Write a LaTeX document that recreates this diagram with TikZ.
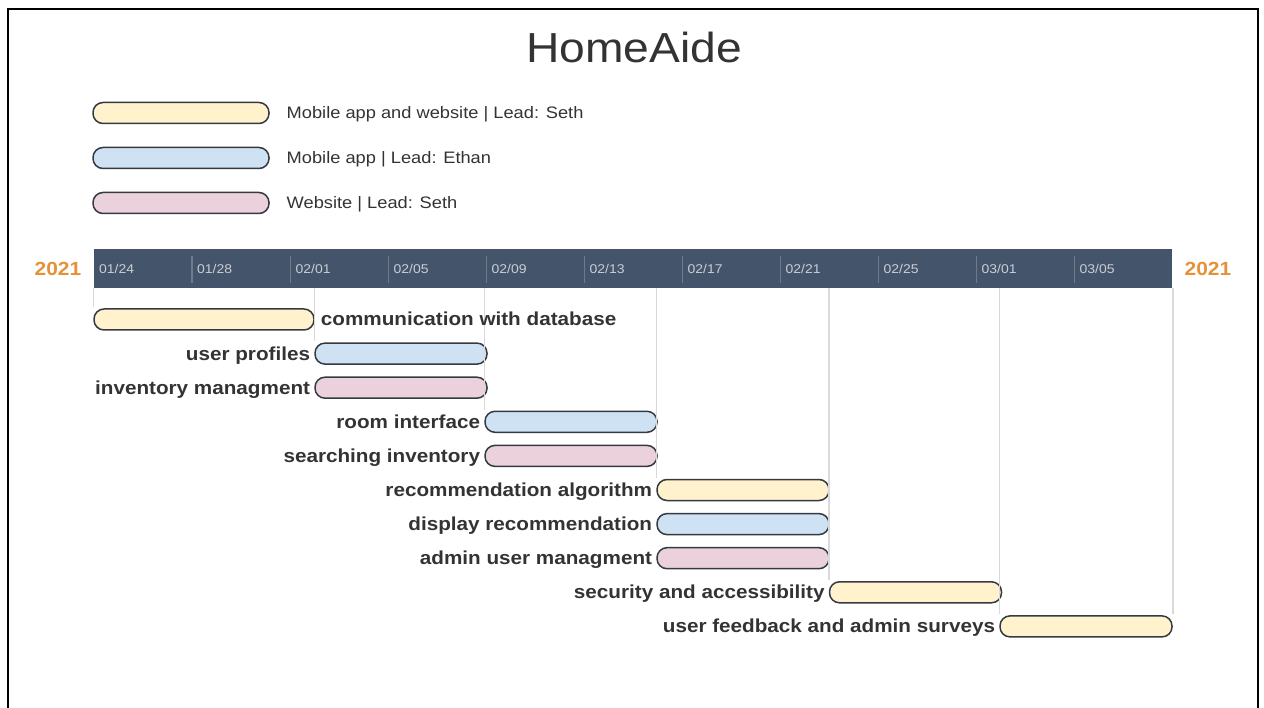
\documentclass[tikz,border=0pt]{standalone}
\usepackage{fontspec}
\setmainfont{Liberation Sans}[FakeStretch=1.1]
\definecolor{txt}{HTML}{333333}
\definecolor{hdrc}{HTML}{44546A}
\definecolor{tickc}{HTML}{6E7B8E}
\definecolor{datec}{HTML}{C9CED6}
\definecolor{orng}{HTML}{E69138}
\definecolor{yel}{HTML}{FFF2CC}
\definecolor{blu}{HTML}{CFE2F3}
\definecolor{pnk}{HTML}{EAD1DC}
\definecolor{edge}{HTML}{353A42}
\definecolor{gridc}{HTML}{D9D9D9}
\tikzset{
  bar/.style={draw=edge, line width=1.5pt, rounded corners=10pt, minimum height=21pt, inner sep=0pt},
  tasklbl/.style={text=txt, font=\fontsize{18.8}{22}\bfseries\selectfont, inner sep=0pt},
  leglbl/.style={text=txt, font=\fontsize{16.6}{20}\selectfont, inner sep=0pt, anchor=base west},
  datelbl/.style={text=datec, font=\fontsize{12.7}{15}\selectfont, inner sep=0pt, anchor=base west},
  yearlbl/.style={text=orng, font=\fontsize{19}{22}\bfseries\selectfont, inner sep=0pt, anchor=base west},
  gridln/.style={draw=gridc, line width=1.5pt},
  tickln/.style={draw=tickc, line width=1.2pt},
}
\begin{document}
\begin{tikzpicture}[x=1pt, y=-1pt]
\useasboundingbox (0,0) rectangle (1264,708);
% frame
\draw[line width=2pt, black] (8,708) -- (8,9.3) -- (1258,9.3) -- (1258,708);
% title
\node[text=txt, font=\fontsize{42}{48}\selectfont, inner sep=0pt, anchor=base] (title) at (634,63) {HomeAide};
% legend
\node[bar, fill=yel, minimum width=176pt] (lg1) at (181,113) {};
\node[bar, fill=blu, minimum width=176pt] (lg2) at (181,158) {};
\node[bar, fill=pnk, minimum width=176pt] (lg3) at (181,203) {};
\node[leglbl] (lt1) at (286.5,119) {Mobile app and website | Lead: Seth};
\node[leglbl] (lt2) at (286.5,164) {Mobile app | Lead: Ethan};
\node[leglbl] (lt3) at (286.5,209) {Website | Lead: Seth};
% header
\node[fill=hdrc, minimum width=1078pt, minimum height=39pt, inner sep=0pt] (hdr) at (633,268.5) {};
\foreach \x in {192,290.5,388.5,486.5,584.5,682.5,780.5,878.5,976.5,1074.5}
  \draw[tickln] (\x,256) -- (\x,283);
\node[datelbl] (d1) at (99,274) {01/24};
\node[datelbl] (d2) at (197,274) {01/28};
\node[datelbl] (d3) at (295.5,274) {02/01};
\node[datelbl] (d4) at (393.5,274) {02/05};
\node[datelbl] (d5) at (491.5,274) {02/09};
\node[datelbl] (d6) at (589.5,274) {02/13};
\node[datelbl] (d7) at (687.5,274) {02/17};
\node[datelbl] (d8) at (785.5,274) {02/21};
\node[datelbl] (d9) at (883.5,274) {02/25};
\node[datelbl] (d10) at (981.5,274) {03/01};
\node[datelbl] (d11) at (1079.5,274) {03/05};
\node[yearlbl] (yl) at (34.5,276) {2021};
\node[yearlbl] (yr) at (1184.5,276) {2021};
% grid lines (drawn first, behind bars)
\coordinate (g1) at (94,288);
\coordinate (g2) at (315,288);
\coordinate (g3) at (485,288);
\coordinate (g4) at (657,288);
\coordinate (g5) at (829.5,288);
\coordinate (g6) at (1000,288);
\coordinate (g7) at (1172,288);
% task bars
\node[bar, fill=yel, minimum width=220pt] (b1) at (204,319.5) {};
\node[bar, fill=blu, minimum width=172pt] (b2) at (401,353.6) {};
\node[bar, fill=pnk, minimum width=172pt] (b3) at (401,387.7) {};
\node[bar, fill=blu, minimum width=172pt] (b4) at (571,421.8) {};
\node[bar, fill=pnk, minimum width=172pt] (b5) at (571,455.9) {};
\node[bar, fill=yel, minimum width=172pt] (b6) at (743,490) {};
\node[bar, fill=blu, minimum width=172pt] (b7) at (743,524.1) {};
\node[bar, fill=pnk, minimum width=172pt] (b8) at (743,558.2) {};
\node[bar, fill=yel, minimum width=172pt] (b9) at (915.5,592.3) {};
\node[bar, fill=yel, minimum width=172pt] (b10) at (1086,626.4) {};
\draw[gridln] (b1.north west |- hdr.south) -- ([yshift=1pt]b1.north west);
\draw[gridln] (b2.north west |- hdr.south) -- ([yshift=1pt]b2.north west);
\draw[gridln] (b4.north west |- hdr.south) -- ([yshift=1pt]b4.north west);
\draw[gridln] (b6.north west |- hdr.south) -- ([yshift=1pt]b6.north west);
\draw[gridln] (b9.north west |- hdr.south) -- ([yshift=1pt]b9.north west);
\draw[gridln] (b10.north west |- hdr.south) -- ([yshift=1pt]b10.north west);
\draw[gridln] (b10.north east |- hdr.south) -- ([yshift=1pt]b10.north east);
% task labels
\node[tasklbl, anchor=base west] (t1) at ([xshift=6pt,yshift=-6.5pt]b1.east) {communication with database};
\node[tasklbl, anchor=base east] (t2) at ([xshift=-4pt,yshift=-6.5pt]b2.west) {user profiles};
\node[tasklbl, anchor=base east] (t3) at ([xshift=-4pt,yshift=-6.5pt]b3.west) {inventory managment};
\node[tasklbl, anchor=base east] (t4) at ([xshift=-4pt,yshift=-6.5pt]b4.west) {room interface};
\node[tasklbl, anchor=base east] (t5) at ([xshift=-4pt,yshift=-6.5pt]b5.west) {searching inventory};
\node[tasklbl, anchor=base east] (t6) at ([xshift=-4pt,yshift=-6.5pt]b6.west) {recommendation algorithm};
\node[tasklbl, anchor=base east] (t7) at ([xshift=-4pt,yshift=-6.5pt]b7.west) {display recommendation};
\node[tasklbl, anchor=base east] (t8) at ([xshift=-4pt,yshift=-6.5pt]b8.west) {admin user managment};
\node[tasklbl, anchor=base east] (t9) at ([xshift=-4pt,yshift=-6.5pt]b9.west) {security and accessibility};
\node[tasklbl, anchor=base east] (t10) at ([xshift=-4pt,yshift=-6.5pt]b10.west) {user feedback and admin surveys};
\end{tikzpicture}
\end{document}
